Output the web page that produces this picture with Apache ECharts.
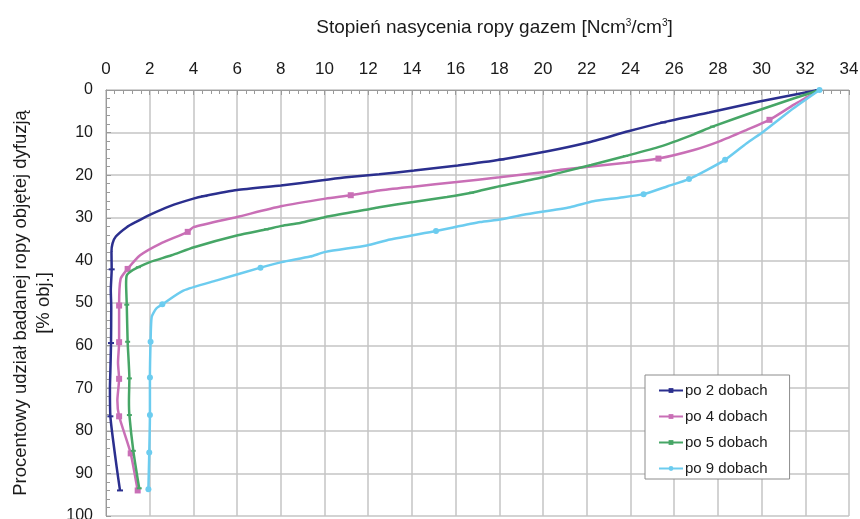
<!DOCTYPE html>
<html>
<head>
<meta charset="utf-8">
<script src="https://cdn.jsdelivr.net/npm/echarts@6/dist/echarts.min.js"></script>
<style>
  html, body { margin: 0; padding: 0; background: #fff; }
  #chart { width: 860px; height: 519px; }
</style>
</head>
<body>
<div id="chart"></div>
<script>
// Saturation degree [Ncm3/cm3] vs. share of oil volume reached by diffusion [% vol.]
const seriesNames = ['po 2 dobach', 'po 4 dobach', 'po 5 dobach', 'po 9 dobach'];

const po2 = [[32.6,0],[29.9,2.7],[27.6,5.3],[25.5,7.6],[23.9,9.7],[22.0,12.4],[20.2,14.4],[18.1,16.3],[16.1,17.7],[14.1,18.9],[12.5,19.8],[11.0,20.5],[9.9,21.2],[8.0,22.4],[6.0,23.5],[4.5,24.9],[4.0,25.5],[2.9,27.3],[2.0,29.3],[1.4,30.9],[0.95,32.2],[0.45,34.4],[0.3,36.0],[0.25,38.0],[0.26,42.1],[0.22,47.0],[0.24,51.0],[0.23,59.4],[0.2,66.0],[0.18,70.0],[0.2,76.6],[0.33,82.4],[0.49,88.6],[0.64,94.0]];
const po2Marks = [0, 3, 7, 15, 24, 27, 30, 33];

const po4 = [[32.65,0],[31.46,3.5],[30.36,7.0],[29.3,9.4],[28.1,12.0],[26.9,14.1],[25.28,16.1],[23.8,17.1],[22.3,17.9],[20.8,18.7],[20.17,19.2],[18.0,20.5],[16.05,21.6],[14.06,22.7],[12.5,23.6],[11.2,24.7],[10.05,25.5],[8.0,27.3],[6.0,29.8],[4.0,32.2],[3.74,33.3],[2.47,36.1],[1.56,38.8],[0.99,42.0],[0.67,44.3],[0.6,50.6],[0.6,59.2],[0.55,64.0],[0.6,67.8],[0.52,72.9],[0.6,76.6],[1.13,85.3],[1.45,94.0]];
const po4Marks = [2, 6, 15, 20, 23, 25, 26, 28, 30, 31, 32];

const po5 = [[32.65,0],[31.46,2.0],[29.9,4.7],[27.75,8.6],[26.9,10.4],[25.35,13.3],[23.78,15.5],[22.2,17.6],[20.8,19.4],[20.0,20.5],[18.0,22.6],[16.73,24.1],[15.6,25.1],[14.06,26.3],[12.5,27.5],[11.9,28.1],[10.05,29.8],[8.88,31.2],[8.04,31.9],[7.35,32.7],[6.03,34.1],[4.03,36.9],[3.0,38.8],[2.01,40.4],[1.48,41.6],[1.1,42.7],[0.95,43.5],[0.92,45.5],[0.95,50.4],[0.99,59.1],[1.07,67.7],[1.05,72.9],[1.07,76.3],[1.25,84.7],[1.52,93.5]];
const po5Marks = [3, 6, 11, 19, 24, 28, 29, 30, 32, 33, 34];

const po9 = [[32.65,0],[31.46,4.3],[30.08,9.8],[29.32,12.5],[28.33,16.4],[27.49,18.8],[26.68,20.9],[25.7,22.6],[24.6,24.45],[23.5,25.3],[22.3,26.1],[21.24,27.5],[19.1,29.3],[18.03,30.4],[17.12,31.0],[15.1,33.1],[13.0,35.1],[11.93,36.5],[10.05,38.0],[9.34,39.1],[8.04,40.4],[7.07,41.7],[5.07,44.7],[3.54,47.1],[2.58,50.3],[2.3,51.3],[2.09,53.3],[2.04,59.1],[2.01,67.5],[2.01,76.3],[1.98,85.1],[1.94,93.7]];
const po9Marks = [0, 4, 6, 8, 15, 21, 24, 27, 28, 29, 30, 31];

const xTicks = { min: 0, max: 34, step: 2 };
const yTicks = { min: 0, max: 100, step: 10 };

const colors = ['#2B2F8E', '#C96FB6', '#46A666', '#6CCCEF'];
const symbols = [
  { symbol: 'rect', size: [6, 2] },
  { symbol: 'rect', size: 6 },
  { symbol: 'rect', size: [5, 2] },
  { symbol: 'circle', size: 6 }
];

function withMarks(points, marks) {
  return points.map((p, i) => marks.includes(i) ? { value: p } : { value: p, symbol: 'none' });
}

const allData = [[po2, po2Marks], [po4, po4Marks], [po5, po5Marks], [po9, po9Marks]];

const font = "'Liberation Sans', Arial, sans-serif";

const chart = echarts.init(document.getElementById('chart'), null, { renderer: 'canvas' });
chart.setOption({
  animation: false,
  backgroundColor: '#ffffff',
  grid: { left: 106, right: 11, top: 90, bottom: 3, containLabel: false, outerBoundsMode: 'none' },
  legend: {
    orient: 'vertical',
    left: 645,
    top: 375,
    padding: [8, 22, 3, 13],
    itemGap: 11,
    itemWidth: 24,
    itemHeight: 6,
    backgroundColor: '#ffffff',
    borderColor: '#8c8c8c',
    borderWidth: 1,
    borderRadius: 0,
    textStyle: { fontFamily: font, fontSize: 15, color: '#1a1a1a', padding: [0, 0, 0, -3] },
    data: seriesNames
  },
  xAxis: {
    type: 'value',
    position: 'top',
    min: xTicks.min,
    max: xTicks.max,
    interval: xTicks.step,
    name: '{t|Stopień nasycenia ropy gazem [Ncm}{s|3}{t|/cm}{s|3}{t|]}',
    nameLocation: 'middle',
    nameGap: 53,
    nameTextStyle: {
      padding: [0, 0, 0, 34],
      rich: {
        t: { fontFamily: font, fontSize: 19, color: '#1a1a1a' },
        s: { fontFamily: font, fontSize: 10, color: '#1a1a1a', verticalAlign: 'top', padding: [0, 0, 8, 0] }
      }
    },
    axisLine: { show: true, lineStyle: { color: '#9a9a9a', width: 1 } },
    axisTick: { show: true, inside: true, length: 5, lineStyle: { color: '#9a9a9a' } },
    minorTick: { show: true, splitNumber: 5, length: 4, lineStyle: { color: '#9a9a9a' } },
    axisLabel: { fontFamily: font, fontSize: 17, color: '#1a1a1a', margin: 12 },
    splitLine: { show: true, lineStyle: { color: '#c4c4c4', width: 1.5 } }
  },
  yAxis: {
    type: 'value',
    inverse: true,
    min: yTicks.min,
    max: yTicks.max,
    interval: yTicks.step,
    name: 'Procentowy udział badanej ropy objętej dyfuzją\n[% obj.]',
    nameLocation: 'middle',
    nameGap: 51,
    nameRotate: 90,
    nameTextStyle: { fontFamily: font, fontSize: 18.5, color: '#1a1a1a', lineHeight: 23, align: 'center' },
    axisLine: { show: true, lineStyle: { color: '#9a9a9a', width: 1 } },
    axisTick: { show: true, inside: true, length: 5, lineStyle: { color: '#9a9a9a' } },
    minorTick: { show: true, splitNumber: 5, length: 4, lineStyle: { color: '#9a9a9a' } },
    axisLabel: { fontFamily: font, fontSize: 16, color: '#1a1a1a', margin: 13 },
    splitLine: { show: true, lineStyle: { color: '#c4c4c4', width: 1.5 } }
  },
  series: allData.map(([pts, marks], i) => ({
    name: seriesNames[i],
    type: 'line',
    data: withMarks(pts, marks),
    smooth: 0.2,
    showSymbol: true,
    showAllSymbol: true,
    symbol: symbols[i].symbol,
    symbolSize: symbols[i].size,
    color: colors[i],
    lineStyle: { color: colors[i], width: 2.5 },
    itemStyle: { color: colors[i] },
    clip: false,
    z: 2 + i
  }))
});
</script>
</body>
</html>
